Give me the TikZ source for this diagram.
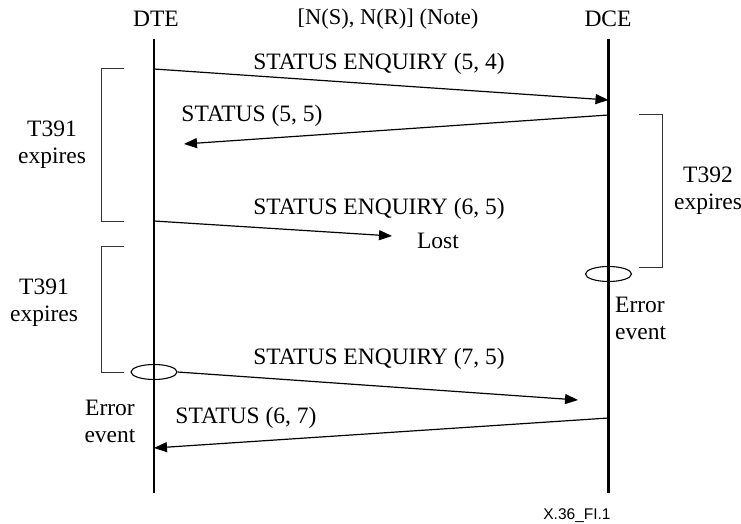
\documentclass[tikz,border=0pt]{standalone}
\usepackage{fontspec}
\setmainfont{Liberation Serif}
\newfontfamily\capfont{Liberation Sans}
\usetikzlibrary{arrows.meta,shapes.geometric}
\begin{document}
\begin{tikzpicture}[x=1pt,y=-1pt,
  lbl/.style={inner sep=0pt,font=\fontsize{23.5}{27}\selectfont,align=center},
  life/.style={line width=2.2pt},
  msg/.style={line width=1.2pt,-{Triangle[length=13pt,width=10pt]}},
  brk/.style={line width=1pt,draw=black!80},
  evt/.style={ellipse,draw,line width=1.1pt,minimum width=46pt,minimum height=15pt,inner sep=0pt}]
\useasboundingbox (0,0) rectangle (741,524);
% headers
\node[lbl] (dte) at (156,19) {DTE};
\node[lbl,font=\fontsize{22.5}{27}\selectfont] (note) at (388,19) {[N(S), N(R)] (Note)};
\node[lbl] (dce) at (608,19) {DCE};
% lifelines
\coordinate (dteT) at (154,39);
\coordinate (dteB) at (154,493);
\coordinate (dceT) at (608.5,39);
\coordinate (dceB) at (608.5,493);
\draw[life] (dteT) -- (dteB);
\draw[life] (dceT) -- (dceB);
% message endpoints
\coordinate (m1s) at (154,69);
\coordinate (m1e) at (608.5,100);
\coordinate (m2s) at (608.5,115);
\coordinate (m2e) at (184,144);
\coordinate (m3s) at (154,221);
\coordinate (m3e) at (392,236);
\coordinate (m4e) at (578,400);
\coordinate (m5s) at (608.5,418);
\coordinate (m5e) at (154,448);
% error events
\node[evt] (e1) at (608.5,274) {};
\node[evt] (e2) at (154,372) {};
% messages
\draw[msg] (m1s) -- (m1e);
\draw[msg] (m2s) -- (m2e);
\draw[msg] (m3s) -- (m3e);
\draw[msg] (e2.east) -- (m4e);
\draw[msg] (m5s) -- (m5e);
% message labels
\node[lbl] (l1) at (379,64) {STATUS ENQUIRY (5, 4)};
\node[lbl] (l2) at (252,116) {STATUS (5, 5)};
\node[lbl] (l3) at (379,209) {STATUS ENQUIRY (6, 5)};
\node[lbl] (lost) at (438,241) {Lost};
\node[lbl] (l4) at (379,359) {STATUS ENQUIRY (7, 5)};
\node[lbl] (l5) at (246,418) {STATUS (6, 7)};
% brackets
\draw[brk] (124,69) -- (101,69) -- (101,221) -- (124,221);
\draw[brk] (124,246) -- (101,246) -- (101,372) -- (124,372);
\draw[brk] (639,115) -- (662,115) -- (662,267) -- (639,267);
\node[lbl] (t1) at (52,145) {T391\\expires};
\node[lbl] (t2) at (44,303) {T391\\expires};
\node[lbl] (t3) at (708,191) {T392\\expires};
\node[lbl,align=left,anchor=west] (err1) at (615,318) {Error\\event};
\node[lbl] (err2) at (110,421) {Error\\event};
\node[inner sep=0pt,font=\capfont\fontsize{15.5}{18}\selectfont] (cap) at (577,516) {X.36\_FI.1};
\end{tikzpicture}
\end{document}
